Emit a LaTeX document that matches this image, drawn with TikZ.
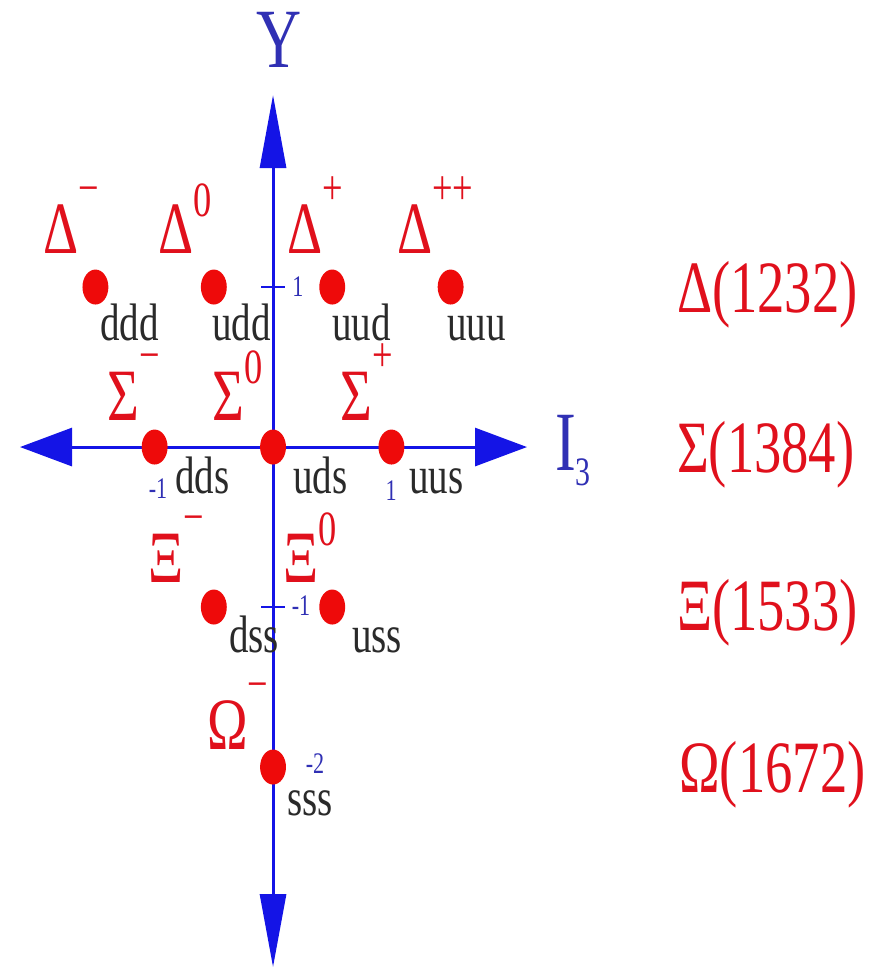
\documentclass[tikz,border=0pt]{standalone}
\usepackage{fontspec}
\setmainfont{Liberation Serif}
\usepackage{xcolor}
\usepackage{tikz}
\usetikzlibrary{arrows.meta}
\definecolor{baryonred}{HTML}{E0101C}
\definecolor{dotred}{HTML}{EE0A0A}
\definecolor{axisblue}{HTML}{1414E6}
\definecolor{tickblue}{HTML}{3030B4}
\definecolor{quarkgray}{HTML}{2A2A2A}
\newcommand{\chg}[2][0.66em]{\raisebox{#1}{\fontsize{28}{28}\selectfont #2}}

\begin{document}
\begin{tikzpicture}[x=3.2cm,y=3.2cm,xscale=0.74,transform shape,
  baryon/.style={circle,fill=dotred,minimum size=0.7cm,inner sep=0pt},
  plab/.style={anchor=base west,inner sep=0pt,text=baryonred,font=\fontsize{42}{42}\selectfont},
  qlab/.style={anchor=base west,inner sep=0pt,text=quarkgray,font=\fontsize{30}{30}\selectfont},
  tlab/.style={inner sep=0pt,text=tickblue,font=\fontsize{17}{17}\selectfont},
  mlab/.style={anchor=base west,inner sep=0pt,text=baryonred,font=\fontsize{42}{42}\selectfont},
  alab/.style={inner sep=0pt,text=tickblue,font=\fontsize{48}{48}\selectfont},
  vaxis/.style={axisblue,line width=1.7pt,{Triangle[length=1.46cm,width=0.52cm]}-{Triangle[length=1.46cm,width=0.52cm]}},
  haxis/.style={axisblue,line width=1.7pt,{Triangle[length=1.04cm,width=0.76cm]}-{Triangle[length=1.04cm,width=0.76cm]}},
  tick/.style={axisblue,line width=1.2pt}]
  \useasboundingbox (-2.306,-3.256) rectangle (5.16,2.794);

  % axes
  \coordinate (ytop) at (0,2.2);
  \coordinate (ybot) at (0,-3.25);
  \coordinate (xleft) at (-2.137,0);
  \coordinate (xright) at (2.145,0);
  \draw[vaxis] (ybot) -- (ytop);
  \draw[haxis] (xleft) -- (xright);
  \coordinate (yone) at (0,1);
  \coordinate (ymone) at (0,-1);
  \draw[tick] ([xshift=-0.32cm]yone) -- ([xshift=0.32cm]yone);
  \draw[tick] ([xshift=-0.32cm]ymone) -- ([xshift=0.32cm]ymone);
  \node[alab,anchor=base] (ylab) at (0.05,2.369) {Y};
  \node[alab,anchor=base west] (ilab) at (2.38,-0.144) {I\raisebox{-0.3cm}{\fontsize{23}{23}\selectfont 3}};

  % tick labels
  \node[tlab] (tyone) at (0.21,1.0) {1};
  \node[tlab] (tymone) at (0.236,-0.99) {-1};
  \node[tlab] (tymtwo) at (0.355,-1.98) {-2};
  \node[tlab] (tximone) at (-0.971,-0.2625) {-1};
  \node[tlab] (txone) at (0.997,-0.27) {1};

  % decuplet
  \node[baryon] (ddd) at (-1.5,1) {};
  \node[baryon] (udd) at (-0.5,1) {};
  \node[baryon] (uud) at (0.5,1) {};
  \node[baryon] (uuu) at (1.5,1) {};
  \node[baryon] (dds) at (-1,0) {};
  \node[baryon] (uds) at (0,0) {};
  \node[baryon] (uus) at (1,0) {};
  \node[baryon] (dss) at (-0.5,-1) {};
  \node[baryon] (uss) at (0.5,-1) {};
  \node[baryon] (sss) at (0,-2) {};

  \node[plab] (dminus) at (-1.943,1.2125) {Δ\chg{−}};
  \node[plab] (dzero) at (-0.971,1.2125) {Δ\chg[0.5em]{0}};
  \node[plab] (dplus) at (0.118,1.2125) {Δ\chg{+}};
  \node[plab] (dpp) at (1.047,1.2125) {Δ\chg{++}};
  \node[plab] (sminus) at (-1.402,0.169) {Σ\chg{−}};
  \node[plab] (szero) at (-0.515,0.169) {Σ\chg[0.5em]{0}};
  \node[plab] (splus) at (0.566,0.169) {Σ\chg{+}};
  \node[plab] (xminus) at (-1.056,-0.844) {Ξ\chg{−}};
  \node[plab] (xzero) at (0.084,-0.844) {Ξ\chg[0.5em]{0}};
  \node[plab] (ominus) at (-0.557,-1.8875) {Ω\chg{−}};

  \node[qlab] (qddd) at (-1.461,0.669) {ddd};
  \node[qlab] (qudd) at (-0.515,0.669) {udd};
  \node[qlab] (quud) at (0.498,0.669) {uud};
  \node[qlab] (quuu) at (1.47,0.669) {uuu};
  \node[qlab] (qdds) at (-0.828,-0.2875) {dds};
  \node[qlab] (quds) at (0.169,-0.2875) {uds};
  \node[qlab] (quus) at (1.149,-0.2875) {uus};
  \node[qlab] (qdss) at (-0.372,-1.281) {dss};
  \node[qlab] (quss) at (0.667,-1.281) {uss};
  \node[qlab] (qsss) at (0.118,-2.3) {sss};

  % masses
  \node[mlab] (mdelta) at (3.41,0.844) {Δ(1232)};
  \node[mlab] (msigma) at (3.41,-0.156) {Σ(1384)};
  \node[mlab] (mxi) at (3.41,-1.144) {Ξ(1533)};
  \node[mlab] (momega) at (3.43,-2.156) {Ω(1672)};
\end{tikzpicture}
\end{document}
